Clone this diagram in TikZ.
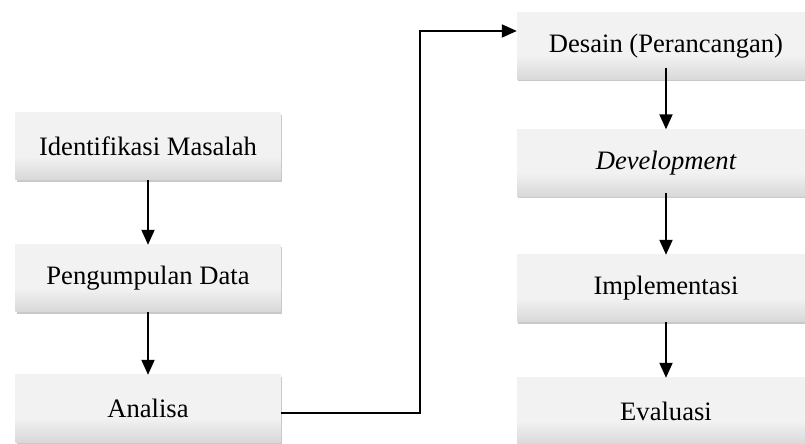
\documentclass[tikz,border=0pt]{standalone}
\usepackage{fontspec}
\setmainfont{Liberation Serif}
\usetikzlibrary{arrows.meta,shadows,calc}
\definecolor{boxlt}{HTML}{F2F2F2}
\definecolor{boxdk}{HTML}{D8D8D8}
\pgfdeclareverticalshading{boxshade}{100bp}{color(0bp)=(boxdk); color(25bp)=(boxdk); color(43bp)=(boxlt); color(100bp)=(boxlt)}
\tikzset{
  stepbox/.style={rectangle, shading=boxshade, draw=none, inner sep=0pt,
    minimum height=67bp, font=\fontsize{26.6bp}{30bp}\selectfont,
    drop shadow={shadow xshift=1.2bp, shadow yshift=-2bp, opacity=0.35, fill=black!60}},
  leftbox/.style={stepbox, minimum width=265bp},
  rightbox/.style={stepbox, minimum width=298bp},
  arr/.style={-{Triangle[width=13bp,length=15bp]}, line width=1.9bp, black}
}
\begin{document}
\begin{tikzpicture}[x=1bp,y=-1bp]
\clip (0,0) rectangle (805,444);
\fill[white] (0,0) rectangle (805,444);
\node[leftbox] (idm) at (148,146.5) {Identifikasi Masalah};
\node[leftbox] (pd) at (148,278.5) {Pengumpulan Data};
\node[leftbox] (an) at (148,408.5) {Analisa};
\node[rightbox] (ds) at (666,46) {Desain (Perancangan)};
\node[rightbox] (dv) at (666,163) {\itshape Development};
\node[rightbox] (im) at (666,288.5) {Implementasi};
\node[rightbox] (ev) at (666,411.5) {Evaluasi};
\coordinate (bend) at (420,31);
\draw[arr] (idm.south) -- (pd.north);
\draw[arr] (pd.south) -- (an.north);
\draw[arr] ([yshift=-4.5bp]an.east) -| (bend) -- (bend -| ds.west);
\draw[arr] ($(ds.south)+(0,-12)$) -- (dv.north);
\draw[arr] ($(dv.south)+(0,-4)$) -- (im.north);
\draw[arr] (im.south) -- (ev.north);
\end{tikzpicture}
\end{document}
